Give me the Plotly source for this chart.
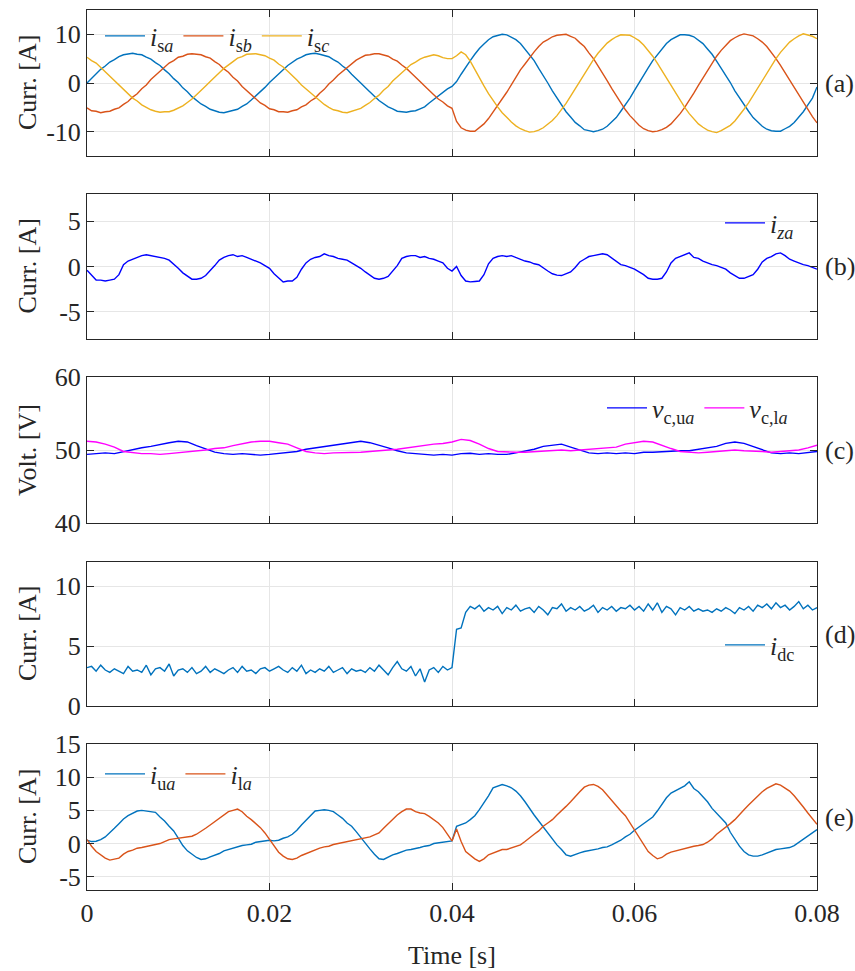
import plotly.graph_objects as go

# ---------------- data ----------------
# fine time base: 0 .. 0.08 s, 0.5 ms step (161 samples); coarse: 1 ms step (81 samples)
N_FINE = 161
N_COARSE = 81
t_fine = [round(i * 0.0005, 4) for i in range(N_FINE)]
t_coarse = [round(i * 0.001, 3) for i in range(N_COARSE)]

# (a) source currents [A]
i_sa = [
    0.0, 1.0, 1.8, 2.8, 3.5, 4.3, 4.8, 5.4, 5.8, 5.9,
    6.1, 5.9, 5.8, 5.3, 4.9, 4.2, 3.6, 2.7, 1.9, 0.9,
    0.1, -1.0, -1.8, -2.8, -3.5, -4.3, -4.8, -5.4, -5.7, -6.0,
    -6.1, -5.9, -5.7, -5.4, -4.8, -4.3, -3.5, -2.7, -1.9, -0.9,
    0.1, 0.9, 1.9, 2.7, 3.6, 4.2, 4.9, 5.3, 5.8, 6.0,
    6.1, 5.9, 5.6, 5.4, 4.8, 4.3, 3.5, 2.8, 1.8, 1.0,
    0.0, -0.9, -1.9, -2.7, -3.6, -4.2, -4.9, -5.3, -5.8, -5.9,
    -6.0, -5.8, -5.7, -5.3, -4.9, -4.1, -3.4, -2.7, -2.0, -1.2,
    -0.7, 0.3, 1.8, 3.3, 4.6, 5.9, 7.1, 8.0, 8.9, 9.5,
    9.8, 10.0, 9.9, 9.4, 8.9, 8.1, 7.0, 5.8, 4.6, 3.0,
    1.6, 0.0, -1.6, -3.1, -4.5, -5.9, -7.0, -8.1, -8.8, -9.6,
    -9.8, -10.0, -9.8, -9.5, -8.9, -8.0, -7.1, -5.8, -4.5, -3.1,
    -1.5, 0.1, 1.5, 3.1, 4.6, 5.8, 7.1, 8.1, 8.9, 9.4,
    9.9, 9.9, 9.8, 9.5, 8.8, 8.1, 7.0, 5.9, 4.5, 3.1,
    1.6, 0.1, -1.6, -3.0, -4.6, -5.8, -7.1, -8.0, -8.9, -9.5,
    -9.8, -9.9, -9.9, -9.4, -8.9, -8.1, -7.0, -5.9, -4.5, -3.1,
    -0.8,
]
i_sb = [
    -5.1, -5.7, -5.8, -6.1, -5.9, -5.8, -5.4, -5.1, -4.4, -3.8,
    -2.9, -2.2, -1.2, -0.4, 0.7, 1.5, 2.5, 3.2, 4.1, 4.6,
    5.3, 5.5, 5.9, 6.0, 5.9, 5.8, 5.4, 5.1, 4.4, 3.8,
    2.9, 2.2, 1.2, 0.4, -0.7, -1.5, -2.5, -3.2, -4.1, -4.6,
    -5.3, -5.5, -5.9, -5.9, -6.0, -5.7, -5.5, -4.9, -4.5, -3.7,
    -3.1, -2.1, -1.3, -0.2, 0.6, 1.6, 2.4, 3.3, 3.9, 4.7,
    5.2, 5.7, 5.8, 6.0, 6.0, 5.7, 5.5, 4.9, 4.5, 3.7,
    3.0, 2.1, 1.3, 0.3, -0.6, -1.6, -2.4, -3.3, -3.9, -4.7,
    -5.2, -7.9, -9.2, -9.7, -9.9, -9.9, -9.1, -8.4, -7.3, -6.0,
    -4.7, -3.3, -1.9, -0.4, 1.2, 2.7, 3.9, 5.2, 6.4, 7.5,
    8.4, 8.9, 9.5, 9.8, 9.9, 10.0, 9.6, 9.2, 8.3, 7.5,
    6.2, 5.0, 3.5, 2.1, 0.5, -1.1, -2.6, -4.1, -5.5, -6.7,
    -7.8, -8.7, -9.4, -9.8, -10.0, -9.9, -9.6, -9.1, -8.4, -7.4,
    -6.3, -5.0, -3.6, -2.1, -0.5, 1.0, 2.6, 4.1, 5.5, 6.7,
    7.8, 8.7, 9.3, 9.8, 10.1, 9.9, 9.7, 9.1, 8.4, 7.5,
    6.3, 5.0, 3.6, 2.1, 0.5, -1.0, -2.6, -4.1, -5.5, -6.9,
    -8.2,
]
i_sc = [
    5.3, 4.6, 4.1, 3.2, 2.5, 1.5, 0.7, -0.3, -1.3, -2.1,
    -3.1, -3.7, -4.5, -5.0, -5.5, -5.8, -6.0, -5.9, -5.9, -5.6,
    -5.1, -4.7, -4.0, -3.3, -2.4, -1.6, -0.6, 0.3, 1.3, 2.1,
    3.0, 3.8, 4.4, 5.1, 5.4, 5.9, 5.9, 6.0, 5.8, 5.6,
    5.1, 4.7, 3.9, 3.3, 2.4, 1.6, 0.6, -0.4, -1.2, -2.2,
    -2.9, -3.8, -4.4, -5.0, -5.5, -5.7, -6.0, -6.1, -5.8, -5.6,
    -5.2, -4.6, -4.0, -3.2, -2.5, -1.5, -0.7, 0.4, 1.2, 2.2,
    2.9, 3.8, 4.3, 4.9, 5.3, 5.5, 5.8, 5.6, 5.2, 5.0,
    5.0, 5.6, 6.4, 5.8, 4.5, 2.8, 1.0, -0.6, -2.2, -3.6,
    -4.9, -6.1, -7.1, -8.0, -8.8, -9.4, -9.8, -10.1, -10.0, -9.7,
    -9.2, -8.5, -7.7, -6.7, -5.5, -4.2, -2.7, -1.2, 0.4, 1.9,
    3.4, 4.8, 6.1, 7.2, 8.2, 8.9, 9.5, 9.9, 9.9, 9.8,
    9.3, 8.7, 7.8, 6.7, 5.5, 4.1, 2.6, 1.0, -0.5, -2.1,
    -3.6, -5.0, -6.3, -7.4, -8.4, -9.1, -9.7, -10.0, -10.2, -9.8,
    -9.3, -8.7, -7.8, -6.7, -5.4, -4.1, -2.6, -1.1, 0.5, 2.1,
    3.6, 5.0, 6.3, 7.4, 8.4, 9.1, 9.7, 10.1, 9.9, 9.6,
    9.1,
]

# (b) circulating current [A]
i_za = [
    -0.4, -1.0, -1.5, -1.5, -1.6, -1.5, -1.4, -0.9, 0.2, 0.6,
    0.8, 1.0, 1.2, 1.3, 1.2, 1.1, 1.0, 0.9, 0.7, 0.3,
    -0.2, -0.7, -1.1, -1.4, -1.4, -1.3, -1.0, -0.5, 0.1, 0.7,
    1.0, 1.2, 1.3, 1.1, 1.2, 1.0, 0.8, 0.6, 0.4, 0.1,
    -0.2, -0.8, -1.3, -1.7, -1.6, -1.6, -1.2, -0.3, 0.4, 0.8,
    1.0, 1.1, 1.4, 1.2, 1.1, 0.9, 0.8, 0.7, 0.4, 0.1,
    -0.2, -0.6, -1.0, -1.3, -1.4, -1.3, -1.1, -0.5, 0.1, 0.9,
    1.1, 1.2, 1.2, 1.0, 1.1, 0.9, 0.8, 0.6, 0.4, -0.2,
    -0.5, 0.0, -1.0, -1.6, -1.7, -1.65, -1.6, -0.9, 0.3, 0.9,
    1.1, 1.2, 1.1, 1.2, 1.0, 0.8, 0.6, 0.5, 0.3, 0.2,
    -0.2, -0.5, -0.8, -0.95, -1.0, -0.8, -0.6, -0.1, 0.5, 0.8,
    1.1, 1.2, 1.3, 1.4, 1.3, 0.9, 0.5, 0.2, 0.1, -0.1,
    -0.3, -0.6, -0.9, -1.3, -1.4, -1.4, -1.3, -0.6, 0.4, 0.9,
    1.1, 1.3, 1.5, 1.0, 0.9, 0.6, 0.4, 0.2, 0.1, -0.1,
    -0.3, -0.7, -1.0, -1.3, -1.3, -1.1, -0.9, -0.3, 0.5, 0.9,
    1.1, 1.4, 1.5, 1.2, 0.8, 0.6, 0.4, 0.2, 0.1, -0.1,
    -0.3,
]

# (c) capacitor voltages [V] (1 ms step)
v_c_ua = [
    49.4, 49.5, 49.6, 49.5, 49.8, 50.0, 50.3, 50.5, 50.8, 51.0,
    51.2, 51.1, 50.6, 50.2, 49.7, 49.5, 49.4, 49.5, 49.4, 49.3,
    49.4, 49.5, 49.6, 49.8, 50.1, 50.3, 50.5, 50.6, 50.9, 51.1,
    51.2, 51.0, 50.7, 50.3, 49.9, 49.6, 49.5, 49.4, 49.3, 49.4,
    49.3, 49.5, 49.55, 49.4, 49.5, 49.4, 49.4, 49.6, 49.8, 50.1,
    50.5, 50.7, 50.8, 50.4, 50.0, 49.6, 49.5, 49.6, 49.5, 49.6,
    49.5, 49.7, 49.7, 49.8, 49.8, 49.9, 49.9, 50.1, 50.3, 50.5,
    50.9, 51.1, 50.9, 50.5, 50.0, 49.6, 49.5, 49.6, 49.5, 49.6,
    49.8,
]
v_c_la = [
    51.2, 51.1, 50.8, 50.4, 49.8, 49.6, 49.5, 49.5, 49.4, 49.5,
    49.6, 49.7, 49.8, 50.0, 50.2, 50.3, 50.6, 50.9, 51.1, 51.2,
    51.2, 51.0, 50.8, 50.3, 49.8, 49.6, 49.5, 49.6, 49.6, 49.7,
    49.7, 49.8, 49.85, 50.0, 50.1, 50.3, 50.4, 50.6, 50.8, 50.9,
    51.1, 51.45, 51.3, 50.8, 50.2, 49.8, 49.7, 49.7, 49.7, 49.8,
    49.9, 50.0, 50.0, 49.9, 50.0, 50.1, 50.1, 50.2, 50.4, 50.8,
    51.0, 51.2, 51.1, 50.6, 50.2, 49.8, 49.7, 49.6, 49.7, 49.8,
    49.9, 50.0, 49.9, 49.9, 49.8, 49.7, 49.8, 49.85, 50.0, 50.3,
    50.65,
]

# (d) dc current [A]
i_dc = [
    3.2, 3.3, 2.9, 3.4, 3.0, 2.8, 3.1, 2.9, 2.7, 3.3,
    2.9, 3.0, 2.8, 3.4, 2.6, 3.1, 3.2, 2.9, 3.5, 2.5,
    3.0, 3.1, 2.8, 3.2, 2.7, 2.9, 3.3, 2.8, 3.1, 2.9,
    2.7, 3.0, 3.2, 2.8, 3.3, 2.9, 3.0, 2.7, 3.1, 3.2,
    2.9, 3.1, 3.3, 3.0, 2.8, 3.2, 2.9, 3.4, 2.7, 3.0,
    2.8, 3.1, 2.9, 3.3, 2.8, 3.0, 3.2, 2.7, 3.1, 2.9,
    3.0, 2.8, 3.2, 2.9, 3.4, 3.0, 2.6, 3.2, 3.7, 3.1,
    2.9, 3.3, 2.5, 3.1, 2.0, 3.0, 3.2, 2.8, 3.3, 3.0,
    3.2, 6.4, 6.5, 7.8, 8.3, 8.1, 8.4, 7.9, 8.2, 8.0,
    8.3, 7.7, 8.2, 8.0, 8.4, 7.9, 8.1, 8.2, 7.8, 8.3,
    8.0, 7.6, 8.2, 8.1, 8.5, 7.9, 8.2, 8.0, 8.3, 7.9,
    8.1, 8.4, 7.8, 8.2, 8.0, 8.3, 7.9, 8.2, 8.1, 8.4,
    8.0, 8.3, 7.9, 8.5, 8.0, 8.6, 7.8, 8.3, 8.1, 7.6,
    8.2, 8.0, 8.3, 7.9, 8.1, 7.9, 8.0, 7.8, 8.1, 7.9,
    8.2, 8.0, 7.7, 8.2, 8.0, 8.3, 7.9, 8.4, 8.2, 8.5,
    8.1, 8.6, 8.2, 8.4, 8.0, 8.3, 8.7, 8.1, 8.4, 8.0,
    8.2,
]

# (e) arm currents [A]
i_ua = [
    0.5, 0.3, 0.35, 0.6, 1.0, 1.6, 2.3, 3.0, 3.7, 4.2,
    4.5, 4.9, 5.0, 4.9, 4.9, 4.7, 4.0, 3.4, 2.6, 1.9,
    0.8, -0.3, -1.1, -1.6, -2.1, -2.4, -2.3, -2.0, -1.8, -1.5,
    -1.1, -0.9, -0.7, -0.4, -0.3, -0.2, -0.1, 0.2, 0.3, 0.5,
    0.5, 0.4, 0.5, 0.8, 1.0, 1.4, 2.0, 2.8, 3.5, 4.3,
    4.9, 5.0, 5.1, 5.0, 4.8, 4.3, 3.8, 3.1, 2.6, 1.8,
    0.9, 0.0, -0.8, -1.6, -2.3, -2.4, -2.0, -1.7, -1.5, -1.2,
    -1.0, -0.9, -0.8, -0.6, -0.4, -0.3, 0.0, 0.1, 0.3, 0.4,
    0.4, 2.6, 2.8, 3.1, 3.6, 4.2, 5.1, 6.1, 7.2, 8.4,
    8.7, 8.9, 8.7, 8.4, 7.9, 7.2, 6.3, 5.2, 4.3, 3.4,
    2.5, 1.5, 0.7, -0.2, -0.9, -1.7, -1.9, -1.6, -1.4, -1.2,
    -1.1, -0.9, -0.8, -0.6, -0.5, -0.2, 0.1, 0.5, 1.0, 1.4,
    2.0, 2.5, 2.9, 3.5, 4.0, 4.9, 5.9, 6.9, 7.6, 8.0,
    8.4, 8.7, 9.3, 8.3, 7.8, 7.1, 6.3, 5.3, 4.6, 3.9,
    3.1, 1.7, 0.6, -0.4, -1.2, -1.7, -1.9, -1.9, -1.7, -1.4,
    -1.1, -0.9, -0.8, -0.7, -0.6, -0.3, 0.2, 0.6, 1.1, 1.6,
    2.1,
]
i_la = [
    0.6, -0.4, -1.2, -1.7, -2.2, -2.5, -2.4, -2.2, -1.6, -1.2,
    -1.0, -0.7, -0.6, -0.5, -0.3, -0.15, 0.0, 0.3, 0.6, 0.7,
    0.8, 0.85, 0.9, 1.1, 1.4, 1.8, 2.3, 2.8, 3.3, 3.9,
    4.4, 4.8, 5.0, 5.2, 4.8, 4.1, 3.6, 3.0, 2.4, 1.6,
    0.6, -0.3, -1.3, -1.9, -2.3, -2.4, -2.2, -1.8, -1.5, -1.2,
    -0.9, -0.7, -0.5, -0.4, -0.15, 0.0, 0.2, 0.3, 0.4, 0.6,
    0.7, 0.85, 1.0, 1.3, 1.6, 2.3, 3.0, 3.6, 4.3, 4.8,
    5.2, 5.2, 4.8, 4.6, 4.5, 4.1, 3.6, 3.1, 2.4, 1.4,
    0.4, 2.2, 0.3, -1.2, -1.8, -2.3, -2.7, -2.3, -1.7, -1.4,
    -1.1, -0.9, -0.9, -0.7, -0.5, -0.2, 0.3, 0.9, 1.4, 1.9,
    2.6, 3.1, 3.6, 4.3, 4.9, 5.6, 6.3, 7.1, 7.8, 8.5,
    8.8, 8.9, 8.6, 8.1, 7.3, 6.5, 5.6, 4.9, 4.2, 3.1,
    2.2, 1.1, -0.2, -1.2, -1.8, -2.3, -2.1, -1.6, -1.3, -1.1,
    -0.9, -0.7, -0.6, -0.4, -0.3, -0.15, 0.2, 0.7, 1.4, 1.9,
    2.5, 3.0, 3.6, 4.4, 5.1, 5.8, 6.5, 7.2, 7.8, 8.3,
    8.6, 9.0, 8.8, 8.3, 7.9, 7.2, 6.4, 5.5, 4.6, 3.8,
    2.9,
]

# axis ticks / labels
x_ticks = [0, 0.02, 0.04, 0.06, 0.08]
x_ticktext = ["0", "0.02", "0.04", "0.06", "0.08"]
y_ticks = {
    1: ([-10, 0, 10], ["-10", "0", "10"], [-15, 15]),
    2: ([-5, 0, 5], ["-5", "0", "5"], [-8, 8]),
    3: ([40, 50, 60], ["40", "50", "60"], [40, 60]),
    4: ([0, 5, 10], ["0", "5", "10"], [0, 12]),
    5: ([-5, 0, 5, 10, 15], ["-5", "0", "5", "10", "15"], [-7, 15]),
}
y_titles = ["Curr. [A]", "Curr. [A]", "Volt. [V]", "Curr. [A]", "Curr. [A]"]
panel_tags = ["(a)", "(b)", "(c)", "(d)", "(e)"]
x_title = "Time [s]"

# ---------------- layout geometry ----------------
W, H = 855, 971
ML, MR, MT, MB = 87, 38, 10, 81
PW = W - ML - MR
PH = H - MT - MB
panel_px = [(10, 156), (194, 339), (377, 523), (562, 706), (744, 890)]


def ydom(top, bot):
    return [(H - MB - bot) / PH, (H - MB - top) / PH]


def px_x(px):
    return (px - ML) / PW


def px_y(py):
    return (H - MB - py) / PH


BLUE = "#0072BD"
ORANGE = "#D95319"
YELLOW = "#EDB120"
PURE_BLUE = "#0000FF"
MAGENTA = "#FF00FF"
FONT = "Liberation Serif"
AX = "#262626"
GRID = "#e6e6e6"
LW = 1.4
FS = 26

fig = go.Figure()

series = [
    (t_fine, i_sa, BLUE, "<i>i</i><sub>s<i>a</i></sub>", 1, "legend"),
    (t_fine, i_sb, ORANGE, "<i>i</i><sub>s<i>b</i></sub>", 1, "legend"),
    (t_fine, i_sc, YELLOW, "<i>i</i><sub>s<i>c</i></sub>", 1, "legend"),
    (t_fine, i_za, PURE_BLUE, "<i>i</i><sub><i>za</i></sub>", 2, "legend2"),
    (t_coarse, v_c_ua, PURE_BLUE, "<i>v</i><sub>c,u<i>a</i></sub>", 3, "legend3"),
    (t_coarse, v_c_la, MAGENTA, "<i>v</i><sub>c,l<i>a</i></sub>", 3, "legend3"),
    (t_fine, i_dc, BLUE, "<i>i</i><sub>dc</sub>", 4, "legend4"),
    (t_fine, i_ua, BLUE, "<i>i</i><sub>u<i>a</i></sub>", 5, "legend5"),
    (t_fine, i_la, ORANGE, "<i>i</i><sub>l<i>a</i></sub>", 5, "legend5"),
]
for tx, vy, col, name, k, lg in series:
    fig.add_trace(go.Scatter(
        x=tx, y=vy, mode="lines", name=name,
        line=dict(color=col, width=LW),
        xaxis="x" if k == 1 else f"x{k}",
        yaxis="y" if k == 1 else f"y{k}",
        legend=lg,
    ))

layout = dict(
    width=W, height=H,
    margin=dict(l=ML, r=MR, t=MT, b=MB, autoexpand=False),
    paper_bgcolor="white", plot_bgcolor="white",
    font=dict(family=FONT, size=FS, color=AX),
    showlegend=True,
)

for k in range(1, 6):
    top, bot = panel_px[k - 1]
    xs = "" if k == 1 else str(k)
    tv, tt, rng = y_ticks[k]
    layout[f"xaxis{xs}"] = dict(
        domain=[0, 1], range=[0, 0.08], anchor=f"y{xs}",
        tickvals=x_ticks, ticktext=x_ticktext,
        showticklabels=(k == 5), automargin=False,
        ticks="inside", ticklen=7, tickcolor=AX, tickwidth=1,
        showline=True, linecolor=AX, linewidth=1, mirror="ticks",
        showgrid=True, gridcolor=GRID, gridwidth=1, zeroline=False,
        tickfont=dict(family=FONT, size=FS, color=AX),
    )
    layout[f"yaxis{xs}"] = dict(
        domain=ydom(top, bot), range=rng, anchor=f"x{xs}",
        tickvals=tv, ticktext=tt, automargin=False,
        ticks="inside", ticklen=7, tickcolor=AX, tickwidth=1,
        showline=True, linecolor=AX, linewidth=1, mirror="ticks",
        showgrid=True, gridcolor=GRID, gridwidth=1, zeroline=False,
        tickfont=dict(family=FONT, size=FS, color=AX),
    )

leg_common = dict(
    orientation="h", bgcolor="rgba(0,0,0,0)", borderwidth=0,
    font=dict(family=FONT, size=FS, color=AX),
    xanchor="left", yanchor="middle", itemwidth=40,
    tracegroupgap=0,
)
layout["legend"] = dict(leg_common, x=px_x(100), y=px_y(36))
layout["legend2"] = dict(leg_common, x=px_x(720), y=px_y(223))
layout["legend3"] = dict(leg_common, x=px_x(602), y=px_y(408))
layout["legend4"] = dict(leg_common, x=px_x(720), y=px_y(645))
layout["legend5"] = dict(leg_common, x=px_x(100), y=px_y(774))

annotations = []
for k in range(5):
    top, bot = panel_px[k]
    yc = px_y((top + bot) / 2)
    annotations.append(dict(
        text=y_titles[k], xref="paper", yref="paper",
        x=px_x(27), y=yc, xanchor="center", yanchor="middle",
        textangle=-90, showarrow=False,
        font=dict(family=FONT, size=FS, color=AX),
    ))
    annotations.append(dict(
        text=panel_tags[k], xref="paper", yref="paper",
        x=px_x(823), y=yc, xanchor="left", yanchor="middle",
        showarrow=False, font=dict(family=FONT, size=FS, color=AX),
    ))
annotations.append(dict(
    text=x_title, xref="paper", yref="paper",
    x=0.5, y=px_y(955), xanchor="center", yanchor="middle",
    showarrow=False, font=dict(family=FONT, size=FS, color=AX),
))
layout["annotations"] = annotations

fig.update_layout(**layout)
fig.write_html("out.html")
